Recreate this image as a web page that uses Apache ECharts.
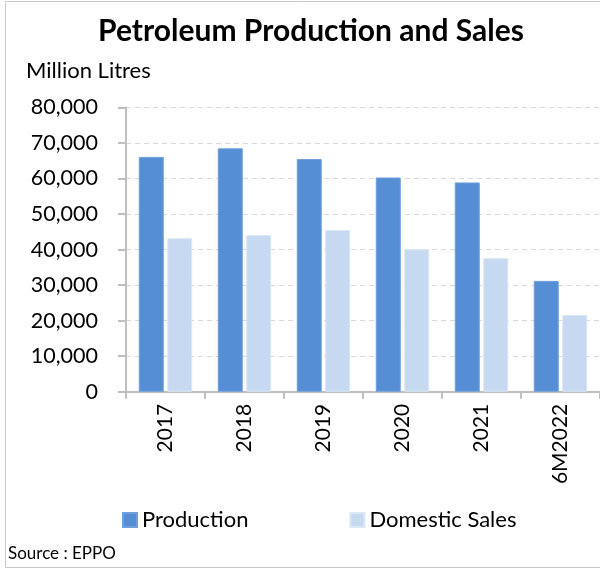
<!DOCTYPE html>
<html>
<head>
<meta charset="utf-8">
<script src="https://cdn.jsdelivr.net/npm/echarts@6/dist/echarts.min.js"></script>
<style>
  html, body { margin: 0; padding: 0; background: #fff; }
  #chart { width: 600px; height: 570px; }
</style>
</head>
<body>
<div id="chart"></div>
<script>
// chart data
const categories = ['2017', '2018', '2019', '2020', '2021', '6M2022'];
const production = [66100, 68500, 65500, 60300, 58900, 31200];
const domesticSales = [43200, 44100, 45500, 40100, 37600, 21600];
const yTicks = [0, 10000, 20000, 30000, 40000, 50000, 60000, 70000, 80000];

const font = 'Lato, "Open Sans", sans-serif';

const chart = echarts.init(document.getElementById('chart'));

const option = {
  animation: false,
  textStyle: { fontFamily: font },
  title: {
    text: 'Petroleum Production and Sales',
    left: 306,
    textAlign: 'center',
    top: 11,
    textStyle: { fontFamily: font, fontSize: 30, fontWeight: 'bold', color: '#000' }
  },
  graphic: [
    {
      type: 'rect',
      shape: { x: 5.5, y: 1.5, width: 600, height: 566 },
      style: { fill: 'none', stroke: '#c8c8c8', lineWidth: 1 },
      silent: true
    },
    {
      type: 'text',
      left: 26,
      top: 60,
      style: { text: 'Million Litres', font: '22px ' + font, fill: '#000' }
    },
    {
      type: 'text',
      left: 8,
      top: 545,
      style: { text: 'Source : EPPO', font: '17px ' + font, fill: '#000' }
    }
  ],
  legend: {
    left: 117,
    top: 504,
    itemWidth: 14,
    itemHeight: 14,
    itemGap: 101,
    icon: 'rect',
    textStyle: { fontFamily: font, fontSize: 22, color: '#000' },
    data: ['Production', 'Domestic Sales']
  },
  grid: {
    left: 126,
    right: 0,
    top: 107.5,
    bottom: 178.3,
    containLabel: false
  },
  xAxis: {
    type: 'category',
    data: categories,
    axisLine: { lineStyle: { color: '#bfbfbf', width: 2 } },
    axisTick: { show: true, length: 7, lineStyle: { color: '#bfbfbf', width: 2 } },
    axisLabel: {
      rotate: 90,
      margin: 12,
      fontFamily: font,
      fontSize: 21,
      color: '#000'
    }
  },
  yAxis: {
    type: 'value',
    min: yTicks[0],
    max: yTicks[yTicks.length - 1],
    interval: yTicks[1] - yTicks[0],
    axisLine: { show: true, lineStyle: { color: '#bfbfbf', width: 2 } },
    axisTick: { show: true, length: 8, lineStyle: { color: '#bfbfbf', width: 2 } },
    axisLabel: {
      margin: 28,
      fontFamily: font,
      fontSize: 21.5,
      color: '#000',
      formatter: v => v.toLocaleString('en-US')
    },
    splitLine: { lineStyle: { color: '#d9d9d9', type: [5, 4], width: 1 } }
  },
  series: [
    {
      name: 'Production',
      type: 'bar',
      data: production,
      barWidth: 25,
      barGap: '14%',
      itemStyle: { color: '#558ed5', borderColor: '#6fa0dc', borderWidth: 1 }
    },
    {
      name: 'Domestic Sales',
      type: 'bar',
      data: domesticSales,
      barWidth: 25,
      itemStyle: { color: '#c6d9f1', borderColor: '#dbe7f6', borderWidth: 1 }
    }
  ]
};

chart.setOption(option);
</script>
</body>
</html>
